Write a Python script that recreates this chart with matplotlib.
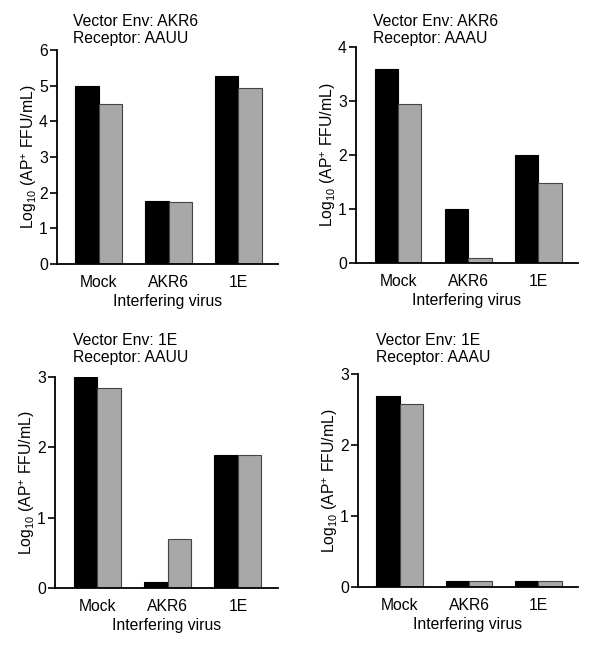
import matplotlib
matplotlib.use("Agg")
import matplotlib.pyplot as plt
import numpy as np

plt.rcParams['font.family'] = ['Liberation Sans', 'DejaVu Sans']
plt.rcParams['mathtext.fontset'] = 'custom'
plt.rcParams['mathtext.rm'] = 'Liberation Sans'
plt.rcParams['mathtext.it'] = 'Liberation Sans:italic'

categories = ["Mock", "AKR6", "1E"]
titles = ["Vector Env: AKR6\nReceptor: AAUU", "Vector Env: AKR6\nReceptor: AAAU",
          "Vector Env: 1E\nReceptor: AAUU", "Vector Env: 1E\nReceptor: AAAU"]
black_vals = [[5.0, 1.77, 5.28], [3.60, 1.0, 2.0], [3.0, 0.085, 1.89], [2.69, 0.09, 0.09]]
gray_vals = [[4.50, 1.73, 4.93], [2.94, 0.09, 1.475], [2.85, 0.69, 1.89], [2.58, 0.09, 0.09]]
ymax = [6, 4, 3, 3]
yticks = [[0, 1, 2, 3, 4, 5, 6], [0, 1, 2, 3, 4], [0, 1, 2, 3], [0, 1, 2, 3]]

positions = [
    [57/600, 1-264/648, (278-57)/600, (264-50)/648],
    [356/600, 1-263/648, (578-356)/600, (263-47)/648],
    [55/600, 1-588/648, (278-55)/600, (588-377)/648],
    [358/600, 1-587/648, (578-358)/600, (587-374)/648],
]
title_pos = [(73/600, 1-14/648), (373/600, 1-14/648), (73/600, 1-333/648), (376/600, 1-333/648)]

fig = plt.figure(figsize=(6, 6.48), dpi=100)
x = np.arange(len(categories))
w = 0.335
fs = 11.3
for i in range(4):
    ax = fig.add_axes(positions[i])
    ax.bar(x - w/2, black_vals[i], width=w, color='black', edgecolor='black', linewidth=0.8)
    ax.bar(x + w/2, gray_vals[i], width=w, color='#a8a8a8', edgecolor='#444444', linewidth=0.8)
    ax.set_xlim(-0.6, 2.57)
    ax.set_ylim(0, ymax[i])
    ax.set_yticks(yticks[i])
    ax.set_xticks(x)
    ax.set_xticklabels(categories, fontsize=fs)
    ax.tick_params(axis='x', length=0, pad=8)
    ax.tick_params(axis='y', length=5, width=1.2, labelsize=fs, pad=1.5)
    for s in ['top', 'right']:
        ax.spines[s].set_visible(False)
    for s in ['left', 'bottom']:
        ax.spines[s].set_linewidth(1.3)
    ax.set_xlabel("Interfering virus", fontsize=fs, labelpad=3)
    ax.set_ylabel(r'Log$_{10}$ (AP$^{+}$ FFU/mL)', fontsize=fs, labelpad=0)
    fig.text(title_pos[i][0], title_pos[i][1], titles[i], fontsize=fs, va='top', ha='left', linespacing=1.2)

fig.savefig("out.png", dpi=100)
